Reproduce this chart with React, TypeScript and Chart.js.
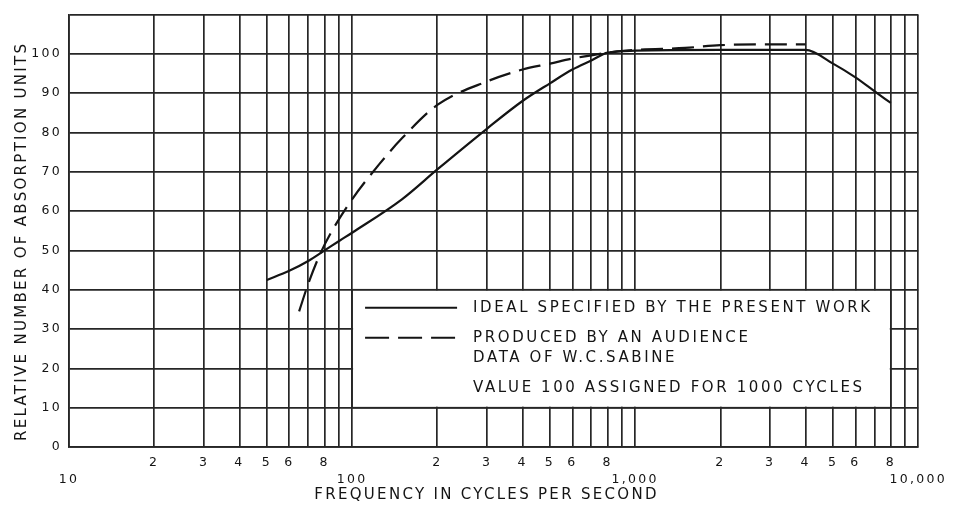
import React, { useEffect, useRef } from 'react';
import { Chart, registerables } from 'chart.js';

Chart.register(...registerables);

// ---- data ----
const idealFreq = [50, 60, 70, 80, 90, 100, 150, 200, 300, 400, 500, 600, 700, 800, 1000, 2000, 3000, 4000, 5000, 6000, 7000, 8000];
const idealValues = [42.5, 44.8, 47.3, 50, 52.4, 54.5, 63, 70.6, 81, 88, 92.5, 96, 98.3, 100.3, 100.8, 101, 101, 101, 97.5, 94, 90.5, 87.5];

const audienceFreq = [65, 70, 77, 85, 100, 125, 150, 200, 300, 400, 500, 600, 700, 800, 1000, 1500, 2000, 3000, 4000];
const audienceValues = [34.5, 41.5, 49, 55, 63, 72, 78.5, 87, 93, 96, 97.5, 98.8, 99.6, 100.3, 101, 101.5, 102.2, 102.4, 102.4];

const decadeTicks = [10, 100, 1000, 10000];
const decadeLabels = ['10', '100', '1,000', '10,000'];
const minorDigits = [2, 3, 4, 5, 6, 8];

const yMin = 0;
const yMax = 110;
const yStep = 10;
const yLabelMax = 100;

const idealLabel = 'IDEAL SPECIFIED BY THE PRESENT WORK';
const audienceLabel = ['PRODUCED BY AN AUDIENCE', 'DATA OF W.C.SABINE'];
const noteText = 'VALUE 100 ASSIGNED FOR 1000 CYCLES';

const xTitle = 'FREQUENCY IN CYCLES PER SECOND';
const yTitle = 'RELATIVE NUMBER OF ABSORPTION UNITS';

const INK = '#141414';
const GRID = '#262626';
const FONT = '"DejaVu Sans", sans-serif';
const SPACING = '2.3px';

function buildLogTicks(): number[] {
  const out: number[] = [];
  for (let d = 10; d < 10000; d *= 10) {
    for (let m = 1; m <= 9; m++) out.push(m * d);
  }
  out.push(10000);
  return out;
}

const noteBoxPlugin = {
  id: 'noteBox',
  beforeInit(chart: any) {
    chart.ctx.letterSpacing = SPACING;
  },
  beforeUpdate(chart: any) {
    chart.ctx.letterSpacing = SPACING;
  },
  beforeDraw(chart: any) {
    chart.ctx.letterSpacing = SPACING;
  },
  beforeDatasetsDraw(chart: any) {
    const { ctx, scales } = chart;
    const x = scales.x;
    const y = scales.y;
    const l = x.getPixelForValue(100);
    const r = x.getPixelForValue(8000);
    const t = y.getPixelForValue(40);
    const b = y.getPixelForValue(10);
    ctx.save();
    ctx.fillStyle = '#ffffff';
    ctx.fillRect(l + 1, t + 1, r - l - 2, b - t - 2);
    ctx.strokeStyle = GRID;
    ctx.lineWidth = 1.6;
    ctx.strokeRect(l, t, r - l, b - t);

    const ds = chart.data.datasets;
    const sx0 = l + 13;
    const sx1 = l + 105;
    const tx = l + 121;
    // solid sample
    ctx.strokeStyle = INK;
    ctx.lineWidth = 2;
    ctx.setLineDash([]);
    ctx.beginPath();
    ctx.moveTo(sx0, t + 18);
    ctx.lineTo(sx1, t + 18);
    ctx.stroke();
    // dashed sample
    ctx.setLineDash([24, 9]);
    ctx.beginPath();
    ctx.moveTo(sx0, t + 48);
    ctx.lineTo(sx1, t + 48);
    ctx.stroke();
    ctx.setLineDash([]);

    ctx.fillStyle = INK;
    ctx.font = `15px ${FONT}`;
    ctx.letterSpacing = '2.6px';
    ctx.textAlign = 'left';
    ctx.textBaseline = 'middle';
    ctx.fillText(ds[0].label, tx, t + 18);
    const lab2 = ds[1].label.split('\n');
    ctx.fillText(lab2[0], tx, t + 48);
    ctx.fillText(lab2[1], tx, t + 68);
    ctx.fillText(noteText, tx, t + 98);
    ctx.restore();
  },
};

export default function App() {
  const canvasRef = useRef<HTMLCanvasElement | null>(null);

  useEffect(() => {
    document.body.style.margin = '0';
    const canvas = canvasRef.current;
    if (!canvas) return;
    const allTicks = buildLogTicks();

    const chart = new Chart(canvas, {
      type: 'line',
      data: {
        datasets: [
          {
            label: idealLabel,
            data: idealFreq.map((f, i) => ({ x: f, y: idealValues[i] })),
            borderColor: INK,
            borderWidth: 2.2,
            pointRadius: 0,
            fill: false,
            cubicInterpolationMode: 'monotone',
          },
          {
            label: audienceLabel.join('\n'),
            data: audienceFreq.map((f, i) => ({ x: f, y: audienceValues[i] })),
            borderColor: INK,
            borderWidth: 2.2,
            borderDash: [22, 9],
            pointRadius: 0,
            fill: false,
            cubicInterpolationMode: 'monotone',
          },
        ],
      },
      options: {
        responsive: false,
        animation: false,
        devicePixelRatio: 1,
        layout: { padding: { left: 0, top: 12, right: 35, bottom: 0 } },
        plugins: {
          legend: { display: false },
          tooltip: { enabled: false },
        },
        scales: {
          x: {
            type: 'logarithmic',
            min: 10,
            max: 10000,
            afterBuildTicks: (scale: any) => {
              scale.ticks = allTicks.map((v) => ({ value: v }));
            },
            afterFit: (scale: any) => {
              scale.height = 61;
            },
            grid: {
              color: GRID,
              lineWidth: 1.7,
              drawTicks: false,
            },
            border: { color: GRID, width: 1.7 },
            ticks: {
              autoSkip: false,
              maxRotation: 0,
              minRotation: 0,
              padding: 7,
              color: INK,
              font: { family: FONT, size: 12.5, lineHeight: 1.35 },
              callback: (value: any) => {
                const v = Number(value);
                const di = decadeTicks.indexOf(v);
                if (di >= 0) return ['', decadeLabels[di]];
                const p = Math.pow(10, Math.floor(Math.log10(v) + 1e-9));
                const m = Math.round(v / p);
                return minorDigits.indexOf(m) >= 0 ? String(m) : '';
              },
            },
            title: {
              display: true,
              text: xTitle + '\u00a0\u00a0',
              color: INK,
              font: { family: FONT, size: 15 },
              padding: { top: 0, bottom: 4 },
            },
          },
          y: {
            type: 'linear',
            min: yMin,
            max: yMax,
            afterFit: (scale: any) => {
              scale.width = 69;
            },
            grid: {
              color: GRID,
              lineWidth: 1.7,
              drawTicks: false,
            },
            border: { color: GRID, width: 1.7 },
            ticks: {
              stepSize: yStep,
              padding: 7,
              color: INK,
              font: { family: FONT, size: 12.5 },
              callback: (value: any) => (Number(value) <= yLabelMax ? String(value) : ''),
            },
            title: {
              display: true,
              text: yTitle + '\u00a0\u00a0\u00a0',
              color: INK,
              font: { family: FONT, size: 15 },
              padding: { top: 13, bottom: 0 },
            },
          },
        },
      },
      plugins: [noteBoxPlugin],
    } as any);

    return () => chart.destroy();
  }, []);

  return (
    <div style={{ position: 'absolute', left: 0, top: 0, width: 954, height: 508, background: '#fff' }}>
      <canvas ref={canvasRef} width={954} height={508} />
    </div>
  );
}
